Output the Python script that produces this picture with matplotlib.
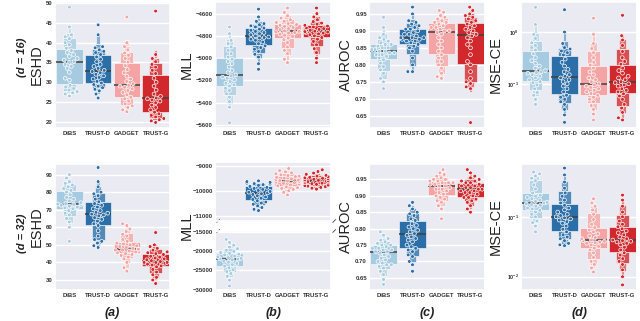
import warnings
warnings.filterwarnings('ignore')
import matplotlib
matplotlib.use('Agg')
import matplotlib.pyplot as plt
from matplotlib.ticker import FormatStrFormatter, NullFormatter, FixedLocator
import seaborn as sns
import pandas as pd

methods = ['DiBS', 'TRUST-D', 'GADGET', 'TRUST-G']
colors = ['#a6cbe1', '#2b6ea8', '#f4a4a4', '#d0282c']

# ---------------- d = 16 ----------------
eshd16_dibs = [26.5, 27, 27.3, 27.6, 28, 28.4, 28.8, 29.2, 30.5, 31, 32.5, 33.5, 34, 34.5, 35, 35.2, 35.6, 36, 36.5, 37, 37.5, 38, 38.6, 39.5, 40, 41, 41.5, 42, 44, 49]
eshd16_trustd = [26, 27, 27.8, 28.2, 28.6, 29, 29.4, 29.8, 30.2, 30.8, 31.2, 31.6, 32, 32.4, 32.7, 33, 33.5, 34, 34.5, 35.2, 35.8, 36.4, 37, 37.5, 37.8, 38.2, 38.7, 39, 42, 44.5]
eshd16_gadget = [22.5, 23, 23.6, 24, 24.5, 25.2, 25.8, 26.2, 26.8, 27.4, 27.9, 28.3, 28.7, 29, 29.2, 29.6, 30.2, 30.8, 31.5, 32.4, 33.2, 34.2, 35.1, 36, 36.8, 37.4, 38.2, 39, 40, 46.5]
eshd16_trustg = [19.8, 20.2, 20.5, 20.8, 21.2, 21.6, 22, 22.4, 23, 23.6, 24.2, 24.8, 25.2, 25.5, 25.8, 26, 26.4, 27, 28, 29, 30, 31, 32.2, 33, 33.8, 34.5, 35.2, 36, 37, 48]

mll16_dibs = [-5580, -5440, -5390, -5350, -5320, -5290, -5270, -5250, -5240, -5225, -5210, -5195, -5180, -5170, -5160, -5150, -5130, -5110, -5080, -5050, -5030, -5010, -4990, -4960, -4930, -4900, -4870, -4840, -4780, -4720]
mll16_trustd = [-5100, -5050, -4990, -4965, -4940, -4920, -4905, -4890, -4870, -4855, -4840, -4830, -4820, -4815, -4810, -4800, -4790, -4780, -4770, -4760, -4750, -4740, -4730, -4720, -4710, -4700, -4690, -4670, -4630, -4560]
mll16_gadget = [-5040, -5010, -4960, -4930, -4900, -4860, -4835, -4820, -4805, -4795, -4785, -4775, -4770, -4765, -4760, -4755, -4745, -4735, -4725, -4715, -4705, -4698, -4690, -4680, -4670, -4655, -4640, -4620, -4590, -4550]
mll16_trustg = [-5040, -5000, -4950, -4915, -4880, -4850, -4830, -4815, -4800, -4790, -4782, -4775, -4770, -4766, -4762, -4758, -4750, -4742, -4735, -4728, -4720, -4712, -4705, -4695, -4685, -4672, -4655, -4630, -4600, -4550]

auroc16_dibs = [0.73, 0.75, 0.76, 0.775, 0.785, 0.795, 0.805, 0.815, 0.82, 0.825, 0.83, 0.83, 0.835, 0.835, 0.84, 0.84, 0.845, 0.845, 0.85, 0.85, 0.855, 0.86, 0.86, 0.865, 0.87, 0.875, 0.88, 0.89, 0.91, 0.94]
auroc16_trustd = [0.78, 0.78, 0.8, 0.82, 0.84, 0.85, 0.855, 0.86, 0.865, 0.87, 0.87, 0.875, 0.875, 0.88, 0.88, 0.88, 0.885, 0.89, 0.89, 0.895, 0.9, 0.905, 0.905, 0.91, 0.915, 0.92, 0.925, 0.93, 0.95, 0.97]
auroc16_gadget = [0.76, 0.765, 0.775, 0.79, 0.8, 0.81, 0.82, 0.83, 0.84, 0.85, 0.86, 0.87, 0.88, 0.89, 0.895, 0.9, 0.9, 0.905, 0.91, 0.91, 0.915, 0.92, 0.925, 0.925, 0.93, 0.935, 0.94, 0.945, 0.955, 0.96]
auroc16_trustg = [0.63, 0.73, 0.735, 0.745, 0.75, 0.76, 0.78, 0.80, 0.81, 0.83, 0.85, 0.86, 0.87, 0.88, 0.885, 0.89, 0.895, 0.9, 0.905, 0.91, 0.915, 0.92, 0.925, 0.93, 0.935, 0.94, 0.945, 0.95, 0.96, 0.97]

msece16_dibs = [0.04, 0.05, 0.06, 0.068, 0.08, 0.095, 0.105, 0.11, 0.12, 0.13, 0.14, 0.15, 0.16, 0.165, 0.17, 0.18, 0.2, 0.22, 0.25, 0.28, 0.32, 0.38, 0.45, 0.5, 0.55, 0.62, 0.75, 0.9, 1.4, 3.0]
msece16_trustd = [0.018, 0.025, 0.032, 0.04, 0.045, 0.05, 0.055, 0.06, 0.07, 0.08, 0.09, 0.1, 0.11, 0.12, 0.13, 0.14, 0.15, 0.17, 0.19, 0.22, 0.26, 0.3, 0.36, 0.4, 0.43, 0.47, 0.5, 0.6, 1.0, 2.7]
msece16_gadget = [0.02, 0.026, 0.032, 0.038, 0.045, 0.05, 0.055, 0.06, 0.065, 0.07, 0.075, 0.08, 0.085, 0.09, 0.095, 0.1, 0.11, 0.12, 0.13, 0.15, 0.17, 0.2, 0.23, 0.26, 0.32, 0.4, 0.48, 0.6, 0.9, 1.85]
msece16_trustg = [0.02, 0.022, 0.028, 0.034, 0.04, 0.05, 0.058, 0.064, 0.07, 0.075, 0.08, 0.09, 0.095, 0.1, 0.105, 0.11, 0.12, 0.13, 0.14, 0.16, 0.18, 0.2, 0.24, 0.27, 0.32, 0.42, 0.55, 0.7, 0.85, 2.1]

# ---------------- d = 32 ----------------
eshd32_dibs = [52, 60, 63, 65, 67, 68, 69.5, 70.5, 71, 71.5, 72, 72.5, 73, 73, 73.2, 73.5, 74, 75, 76, 77, 78.5, 80, 81, 82, 83, 84, 85, 86, 88, 90]
eshd32_trustd = [48.5, 49.5, 51, 52, 53, 55, 58, 61, 62, 63.5, 64.5, 65.5, 66.5, 67, 67.5, 68, 68.5, 69.5, 70.5, 71.5, 72.5, 73.5, 74.5, 76, 78, 79, 80, 83, 86, 94]
eshd32_gadget = [35, 37, 40, 42, 43, 44, 44.5, 45, 45.5, 46, 46.5, 47, 47, 47.5, 47.5, 48, 48.5, 49, 49.5, 50, 50.5, 51, 52, 53, 55, 56, 57.5, 59, 61, 62]
eshd32_trustg = [28, 30, 31.5, 33, 34.5, 36, 37.5, 38, 38.5, 39, 39.5, 40, 40, 40, 40.5, 41, 41.5, 42, 42.5, 43, 43.5, 44.5, 45, 45.5, 46, 47, 48, 49, 50, 57]

mll32_dibs = [-29000, -27500, -26500, -25800, -25300, -24800, -24300, -23900, -23500, -23200, -22900, -22600, -22300, -22100, -22000, -21900, -21700, -21500, -21300, -21000, -20800, -20600, -20400, -20100, -19800, -19400, -19000, -18500, -17800, -17000]
mll32_trustd = [-10770, -10720, -10650, -10580, -10520, -10470, -10430, -10380, -10330, -10280, -10230, -10180, -10130, -10100, -10070, -10040, -10010, -9970, -9930, -9890, -9850, -9810, -9770, -9740, -9720, -9700, -9680, -9650, -9620, -9590]
mll32_gadget = [-10150, -10050, -9980, -9930, -9890, -9860, -9830, -9790, -9750, -9720, -9690, -9660, -9640, -9620, -9600, -9580, -9560, -9540, -9510, -9480, -9450, -9420, -9400, -9380, -9350, -9310, -9270, -9230, -9180, -9100]
mll32_trustg = [-9920, -9880, -9850, -9820, -9800, -9780, -9760, -9730, -9700, -9680, -9660, -9640, -9620, -9610, -9600, -9590, -9570, -9550, -9530, -9510, -9490, -9470, -9450, -9430, -9400, -9370, -9330, -9280, -9220, -9150]

auroc32_dibs = [0.63, 0.645, 0.66, 0.67, 0.68, 0.685, 0.69, 0.69, 0.695, 0.70, 0.705, 0.71, 0.715, 0.72, 0.725, 0.73, 0.73, 0.735, 0.735, 0.74, 0.74, 0.745, 0.75, 0.75, 0.755, 0.76, 0.765, 0.77, 0.78, 0.79]
auroc32_trustd = [0.67, 0.69, 0.70, 0.715, 0.72, 0.73, 0.735, 0.74, 0.745, 0.75, 0.76, 0.765, 0.77, 0.775, 0.78, 0.785, 0.79, 0.795, 0.80, 0.805, 0.81, 0.815, 0.825, 0.83, 0.84, 0.845, 0.85, 0.86, 0.87, 0.88]
auroc32_gadget = [0.83, 0.86, 0.87, 0.88, 0.885, 0.89, 0.895, 0.90, 0.905, 0.91, 0.915, 0.92, 0.92, 0.925, 0.93, 0.93, 0.935, 0.935, 0.94, 0.94, 0.94, 0.945, 0.945, 0.95, 0.95, 0.955, 0.96, 0.965, 0.97, 0.98]
auroc32_trustg = [0.85, 0.86, 0.87, 0.88, 0.885, 0.89, 0.895, 0.895, 0.90, 0.905, 0.91, 0.91, 0.915, 0.915, 0.92, 0.92, 0.925, 0.925, 0.93, 0.93, 0.935, 0.94, 0.94, 0.945, 0.945, 0.95, 0.955, 0.96, 0.97, 0.98]

msece32_dibs = [0.056, 0.07, 0.08, 0.085, 0.1, 0.11, 0.12, 0.128, 0.135, 0.14, 0.15, 0.155, 0.16, 0.165, 0.17, 0.175, 0.18, 0.19, 0.2, 0.21, 0.22, 0.23, 0.25, 0.29, 0.34, 0.4, 0.44, 0.48, 0.52, 0.56]
msece32_trustd = [0.033, 0.034, 0.036, 0.04, 0.043, 0.046, 0.05, 0.056, 0.062, 0.07, 0.078, 0.083, 0.088, 0.092, 0.096, 0.1, 0.105, 0.11, 0.12, 0.13, 0.14, 0.155, 0.17, 0.19, 0.22, 0.25, 0.3, 0.38, 0.5, 0.65]
msece32_gadget = [0.012, 0.014, 0.016, 0.018, 0.021, 0.025, 0.028, 0.03, 0.032, 0.034, 0.036, 0.037, 0.038, 0.039, 0.04, 0.041, 0.043, 0.045, 0.048, 0.052, 0.056, 0.06, 0.066, 0.075, 0.09, 0.11, 0.13, 0.15, 0.17, 0.2]
msece32_trustg = [0.0073, 0.01, 0.013, 0.016, 0.018, 0.02, 0.023, 0.025, 0.028, 0.031, 0.034, 0.036, 0.038, 0.039, 0.04, 0.041, 0.043, 0.046, 0.05, 0.054, 0.058, 0.063, 0.068, 0.075, 0.085, 0.1, 0.12, 0.15, 0.19, 0.23]

row_labels = ['(d = 16)', '(d = 32)']
col_labels = ['(a)', '(b)', '(c)', '(d)']
metric_labels = ['ESHD', 'MLL', 'AUROC', 'MSE-CE']

sns.set_theme(style='darkgrid')
plt.rcParams['font.family'] = ['Liberation Sans', 'DejaVu Sans']

fig = plt.figure(figsize=(6.4, 3.21), dpi=100)
W, H = 640.0, 321.0


def px_axes(l, t, r, b):
    return fig.add_axes([l / W, 1 - b / H, (r - l) / W, (b - t) / H])


def draw(ax, groups, log=False):
    vals, cats = [], []
    for m, g in zip(methods, groups):
        vals += list(g)
        cats += [m] * len(g)
    df = pd.DataFrame({'method': cats, 'value': vals})
    kw = dict(log_scale=True) if log else {}
    sns.boxenplot(data=df, x='method', y='value', hue='method', order=methods,
                  hue_order=methods, palette=colors, saturation=1, width=0.92,
                  k_depth=4, linecolor='white', linewidth=0.4,
                  line_kws=dict(color='#404040', linewidth=1.1),
                  showfliers=False, legend=False, ax=ax, **kw)
    sns.swarmplot(data=df, x='method', y='value', hue='method', order=methods,
                  hue_order=methods, palette=colors, size=2.7, edgecolor='white',
                  linewidth=0.5, legend=False, ax=ax, **kw)
    ax.set_xlabel('')
    ax.set_ylabel('')


def style(ax, xlabels=True, ysize=4.3):
    ax.tick_params(axis='both', which='both', length=0, pad=2, labelsize=4.3,
                   labelcolor='#333333')
    ax.tick_params(axis='y', labelsize=ysize, pad=1.5)
    for t in ax.get_xticklabels() + ax.get_yticklabels():
        t.set_fontweight('bold')
    if not xlabels:
        ax.set_xticklabels([])
    ax.set_xlim(-0.5, 3.5)


cols_px = [(55, 170), (215, 331), (369, 485), (521, 637)]
rows_px = [(2, 128), (164, 290)]
# x (pixels) of the right edge of each rotated metric label
label_right_px = [44, 194, 353, 503]

data16 = [
    [eshd16_dibs, eshd16_trustd, eshd16_gadget, eshd16_trustg],
    [mll16_dibs, mll16_trustd, mll16_gadget, mll16_trustg],
    [auroc16_dibs, auroc16_trustd, auroc16_gadget, auroc16_trustg],
    [msece16_dibs, msece16_trustd, msece16_gadget, msece16_trustg],
]
data32 = [
    [eshd32_dibs, eshd32_trustd, eshd32_gadget, eshd32_trustg],
    [mll32_dibs, mll32_trustd, mll32_gadget, mll32_trustg],
    [auroc32_dibs, auroc32_trustd, auroc32_gadget, auroc32_trustg],
    [msece32_dibs, msece32_trustd, msece32_gadget, msece32_trustg],
]

ylims16 = [(18.4, 50.3), (-5627, -4496), (0.614, 0.985), (0.014, 3.8)]
yticks16 = [[20, 25, 30, 35, 40, 45, 50], [-5600, -5400, -5200, -5000, -4800, -4600],
            [0.65, 0.70, 0.75, 0.80, 0.85, 0.90, 0.95], None]
ylims32 = [(24.3, 96), None, (0.613, 0.997), (0.006, 0.76)]
yticks32 = [[30, 40, 50, 60, 70, 80, 90], None, [0.65, 0.70, 0.75, 0.80, 0.85, 0.90, 0.95], None]


def finish(ax, ylim, yticks, log, j):
    ax.set_ylim(*ylim)
    if yticks is not None:
        ax.yaxis.set_major_locator(FixedLocator(yticks))
    if j == 2:
        ax.yaxis.set_major_formatter(FormatStrFormatter('%.2f'))
    if log:
        ax.yaxis.set_minor_formatter(NullFormatter())
        ax.grid(False, which='minor')


def metric_label(j, ycenter_px):
    fig.text(label_right_px[j] / W, 1 - ycenter_px / H, metric_labels[j],
             rotation=90, ha='right', va='center', fontsize=10.5, color='#222222')


# Row 1
for j in range(4):
    l, r = cols_px[j]
    t, b = rows_px[0]
    ax = px_axes(l, t, r, b)
    log = (j == 3)
    draw(ax, data16[j], log)
    finish(ax, ylims16[j], yticks16[j], log, j)
    style(ax, ysize=3.8 if log else 4.3)
    metric_label(j, (t + b) / 2)

# Row 2
for j in range(4):
    l, r = cols_px[j]
    t, b = rows_px[1]
    log = (j == 3)
    if j == 1:
        ax_top = px_axes(l, 162, r, 221)
        ax_bot = px_axes(l, 231, r, 290)
        draw(ax_top, data32[j])
        draw(ax_bot, data32[j])
        ax_top.set_ylim(-11185, -8840)
        ax_top.yaxis.set_major_locator(FixedLocator([-11000, -10000, -9000]))
        ax_bot.set_ylim(-30030, -14850)
        ax_bot.yaxis.set_major_locator(FixedLocator([-30000, -25000, -20000, -15000]))
        style(ax_top, xlabels=False)
        style(ax_bot)
        d = 0.025
        dy = d * 116 / 59
        for axx, yy in ((ax_top, 0.0), (ax_bot, 1.0)):
            for xx in (0.0, 1.0):
                axx.plot([xx + 0.015, xx + 0.015 + d], [yy - dy / 2, yy + dy / 2],
                         transform=axx.transAxes, color='#444444', lw=0.6,
                         clip_on=False)
        metric_label(j, 226)
    else:
        ax = px_axes(l, t, r, b)
        draw(ax, data32[j], log)
        finish(ax, ylims32[j], yticks32[j], log, j)
        style(ax, ysize=3.8 if log else 4.3)
        metric_label(j, (t + b) / 2)
    fig.text(((l + r) / 2) / W, 1 - 313 / H, col_labels[j], ha='center', va='center',
             fontsize=9, fontweight='bold', fontstyle='italic', color='#222222')

fig.text(22 / W, 1 - 57 / H, row_labels[0], rotation=90, ha='center', va='center',
         fontsize=8, fontweight='bold', fontstyle='italic', color='#222222')
fig.text(22 / W, 1 - 233 / H, row_labels[1], rotation=90, ha='center', va='center',
         fontsize=8, fontweight='bold', fontstyle='italic', color='#222222')

fig.savefig('out.png', dpi=100)
